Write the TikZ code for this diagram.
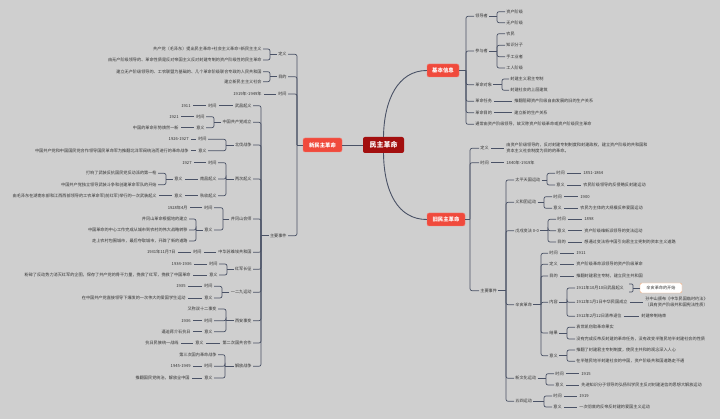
\documentclass[tikz,border=0pt]{standalone}
\usepackage{fontspec}
\setmainfont{Noto Sans CJK SC}
\definecolor{bgc}{HTML}{CFCFCF}
\definecolor{lnc}{HTML}{4A5266}
\definecolor{txc}{HTML}{333333}
\definecolor{redc}{HTML}{F04A3C}
\definecolor{dredc}{HTML}{A30F0F}
\definecolor{orgc}{HTML}{F0A878}
\begin{document}
\begin{tikzpicture}[x=1pt,y=-1pt,
  t/.style={font=\fontsize{4.15}{6}\selectfont, text=txc, inner sep=1.2pt},
  R/.style={t, anchor=west},
  L/.style={t, anchor=east},
  ln/.style={draw=lnc, line width=0.7pt},
  br/.style={ln, rounded corners=2pt},
  sc/.style={ln, shorten <=1pt, shorten >=1pt},
  topic/.style={fill=redc, draw=redc!70!white, line width=0.4pt, text=white, rounded corners=2pt, font=\fontsize{5.4}{6}\selectfont\bfseries, inner sep=0pt},
]
\fill[bgc] (0,0) rectangle (720,419);
\useasboundingbox (0,0) rectangle (720,419);

% main topics
\node[fill=dredc, text=white, font=\fontsize{7}{8}\selectfont\bfseries, minimum width=41pt, minimum height=16pt, rounded corners=2pt, inner sep=0pt] (root) at (383.5,145) {民主革命};
\node[topic, minimum width=32pt, minimum height=13pt] (jb) at (443,70.5) {基本信息};
\node[topic, minimum width=38pt, minimum height=13pt] (jiu) at (446,219.5) {旧民主革命};
\node[topic, minimum width=39pt, minimum height=14pt] (xin) at (322.5,145) {新民主革命};
\draw[ln, line width=0.9pt] (root.north) .. controls (384,100) and (398,70.5) .. (jb.west);
\draw[ln, line width=0.9pt] (root.south) .. controls (384,192) and (398,219.5) .. (jiu.west);
\draw[ln] (root.west) -- (xin.east);

% ===== 基本信息 =====
\node[R] (b1) at (474,16.3) {领导者};
\node[R] (b2) at (474,51) {参与者};
\node[R] (b3) at (474,84.7) {革命对象};
\node[R] (b4) at (474,101.3) {革命任务};
\node[R] (b5) at (474,112.7) {革命目的};
\node[R] (b6) at (474,124.3) {通常由资产阶级领导，故又称资产阶级革命或资产阶级民主革命};
\coordinate (kb) at (466,70.5);
\draw[ln] (jb.east) -- (kb);
\foreach \n in {b1,b2,b3,b4,b5,b6} \draw[br] (kb) |- (\n.west);

\node[R] (b1a) at (505,11.7) {资产阶级};
\node[R] (b1b) at (505,22.7) {无产阶级};
\coordinate (kb1) at (497,16.3);
\draw[ln] (b1.east) -- (kb1);
\foreach \n in {b1a,b1b} \draw[br] (kb1) |- (\n.west);

\node[R] (b2a) at (505,33.7) {农民};
\node[R] (b2b) at (505,45.3) {知识分子};
\node[R] (b2c) at (505,56.7) {手工业者};
\node[R] (b2d) at (505,68) {工人阶级};
\coordinate (kb2) at (497,51);
\draw[ln] (b2.east) -- (kb2);
\foreach \n in {b2a,b2b,b2c,b2d} \draw[br] (kb2) |- (\n.west);

\node[R] (b3a) at (509,79) {封建主义君主专制};
\node[R] (b3b) at (509,90.3) {封建社会的上层建筑};
\coordinate (kb3) at (502,84.7);
\draw[ln] (b3.east) -- (kb3);
\foreach \n in {b3a,b3b} \draw[br] (kb3) |- (\n.west);

\node[R] (b4a) at (513,101.3) {推翻阻碍资产阶级自由发展的旧的生产关系};
\draw[sc] (b4.east) -- (b4a.west);
\node[R] (b5a) at (513,112.7) {建立新的生产关系};
\draw[sc] (b5.east) -- (b5a.west);

% ===== 旧民主革命 =====
\coordinate (kj) at (470,219.5);
\draw[ln] (jiu.east) -- (kj);
\node[R] (j1) at (479,148.3) {定义};
\node[R] (j2) at (479,162.7) {时间};
\node[R] (j3) at (479,290.7) {主要事件};
\foreach \n in {j1,j2,j3} \draw[br] (kj) |- (\n.west);
\node[R, align=left] (j1a) at (505,148.3) {由资产阶级领导的，反对封建专制制度和封建政权，建立资产阶级的共和国和\\资本主义社会制度为目的的革命。};
\draw[sc] (j1.east) -- (j1a.west);
\node[R] (j2a) at (505,162.7) {1840年-1919年};
\draw[sc] (j2.east) -- (j2a.west);

\coordinate (kj3) at (506,290.7);
\draw[ln] (j3.east) -- (kj3);
\node[R] (e1) at (514,180) {太平天国运动};
\node[R] (e2) at (514,202.3) {义和团运动};
\node[R] (e3) at (514,230.7) {戊戌变法 0-0};
\node[R] (e4) at (514,304.7) {辛亥革命};
\node[R] (e5) at (514,378.3) {新文化运动};
\node[R] (e6) at (514,401.3) {五四运动};
\foreach \n in {e1,e2,e3,e4,e5,e6} \draw[br] (kj3) |- (\n.west);

% 太平天国运动
\coordinate (ke1) at (547,180);
\draw[ln] (e1.east) -- (ke1);
\node[R] (e1a) at (555,173.3) {时间};
\node[R] (e1b) at (555,185) {意义};
\foreach \n in {e1a,e1b} \draw[br] (ke1) |- (\n.west);
\node[R] (e1a1) at (582,173.3) {1851-1864};
\node[R] (e1b1) at (582,185) {农民阶级领导的反侵略反封建运动};
\draw[sc] (e1a.east) -- (e1a1.west);
\draw[sc] (e1b.east) -- (e1b1.west);

% 义和团运动
\coordinate (ke2) at (544,202.3);
\draw[ln] (e2.east) -- (ke2);
\node[R] (e2a) at (552,196.7) {时间};
\node[R] (e2b) at (552,208.3) {意义};
\foreach \n in {e2a,e2b} \draw[br] (ke2) |- (\n.west);
\node[R] (e2a1) at (579,196.7) {1900};
\node[R] (e2b1) at (579,208.3) {农民为主体的大规模反帝爱国运动};
\draw[sc] (e2a.east) -- (e2a1.west);
\draw[sc] (e2b.east) -- (e2b1.west);

% 戊戌变法
\coordinate (ke3) at (548,230.7);
\draw[ln] (e3.east) -- (ke3);
\node[R] (e3a) at (556,219.3) {时间};
\node[R] (e3b) at (556,230.7) {意义};
\node[R] (e3c) at (556,242) {目的};
\foreach \n in {e3a,e3b,e3c} \draw[br] (ke3) |- (\n.west);
\node[R] (e3a1) at (583,219.3) {1898};
\node[R] (e3b1) at (583,230.7) {资产阶级维新派领导的变法运动};
\node[R] (e3c1) at (583,242) {想通过变法将中国引向君主立宪制的资本主义道路};
\draw[sc] (e3a.east) -- (e3a1.west);
\draw[sc] (e3b.east) -- (e3b1.west);
\draw[sc] (e3c.east) -- (e3c1.west);

% 辛亥革命
\coordinate (ke4) at (541,304.7);
\draw[ln] (e4.east) -- (ke4);
\node[R] (f1) at (548,253.3) {时间};
\node[R] (f2) at (548,264.3) {定义};
\node[R] (f3) at (548,276) {目的};
\node[R] (f4) at (548,302.3) {内容};
\node[R] (f5) at (548,333) {结果};
\node[R] (f6) at (548,355.7) {意义};
\foreach \n in {f1,f2,f3,f4,f5,f6} \draw[br] (ke4) |- (\n.west);
\node[R] (f1a) at (575,253.3) {1911};
\node[R] (f2a) at (575,264.3) {资产阶级革命派领导的资产阶级革命};
\node[R] (f3a) at (575,276) {推翻封建君主专制，建立民主共和国};
\draw[sc] (f1.east) -- (f1a.west);
\draw[sc] (f2.east) -- (f2a.west);
\draw[sc] (f3.east) -- (f3a.west);

\coordinate (kf4) at (567,302.3);
\draw[ln] (f4.east) -- (kf4);
\node[R] (g1) at (575,288) {1911年10月10日武昌起义};
\node[R] (g2) at (575,302.3) {1912年1月1日中华民国成立};
\node[R] (g3) at (575,316.3) {1912年2月12日清帝退位};
\foreach \n in {g1,g2,g3} \draw[br] (kf4) |- (\n.west);
\node[t, draw=orgc, fill=white, rounded corners=2pt, minimum width=42pt, minimum height=10pt, inner sep=0pt] (kbox) at (661,288) {辛亥革命的开始};
\coordinate (sA) at (629,284);
\coordinate (sB) at (629,292);
\coordinate (sM) at (633,288);
\draw[br, rounded corners=1.2pt] (sA) -| (sM) |- (sB);
\draw[ln] (sM) -- (kbox.west);
\node[R, align=left] (g2a) at (644,302.3) {孙中山颁布《中华民国临时约法》\\（具有资产阶级共和国宪法性质）};
\draw[sc] (g2.east) -- (g2a.west);
\node[R] (g3a) at (640,316.3) {封建帝制结束};
\draw[sc] (g3.east) -- (g3a.west);

\coordinate (kf5) at (567,333);
\draw[ln] (f5.east) -- (kf5);
\node[R] (h1) at (575,327.3) {袁世凯窃取革命果实};
\node[R] (h2) at (575,339) {没有完成反帝反封建的革命任务，没有改变半殖民地半封建社会的性质};
\foreach \n in {h1,h2} \draw[br] (kf5) |- (\n.west);

\coordinate (kf6) at (567,355.7);
\draw[ln] (f6.east) -- (kf6);
\node[R] (i1) at (575,350) {推翻了封建君主专制制度，使民主共和的观念深入人心};
\node[R] (i2) at (575,361.3) {在半殖民地半封建社会的中国，资产阶级共和国道路走不通};
\foreach \n in {i1,i2} \draw[br] (kf6) |- (\n.west);

% 新文化运动
\coordinate (ke5) at (546,378.3);
\draw[ln] (e5.east) -- (ke5);
\node[R] (e5a) at (554,373.7) {时间};
\node[R] (e5b) at (554,385) {意义};
\foreach \n in {e5a,e5b} \draw[br] (ke5) |- (\n.west);
\node[R] (e5a1) at (580,373.7) {1915};
\node[R] (e5b1) at (580,385) {先进知识分子领导的弘扬科学民主反对封建迷信的思想大解放运动};
\draw[sc] (e5a.east) -- (e5a1.west);
\draw[sc] (e5b.east) -- (e5b1.west);

% 五四运动
\coordinate (ke6) at (544,401.3);
\draw[ln] (e6.east) -- (ke6);
\node[R] (e6a) at (552,396) {时间};
\node[R] (e6b) at (552,407) {意义};
\foreach \n in {e6a,e6b} \draw[br] (ke6) |- (\n.west);
\node[R] (e6a1) at (578,396) {1919};
\node[R] (e6b1) at (578,407) {一次彻底的反帝反封建的爱国主义运动};
\draw[sc] (e6a.east) -- (e6a1.west);
\draw[sc] (e6b.east) -- (e6b1.west);

% ===== 新民主革命 =====
\coordinate (kx) at (297,145);
\draw[ln] (xin.west) -- (kx);
\node[L] (n1) at (288,54.3) {定义};
\node[L] (n2) at (288,76.7) {目的};
\node[L] (n3) at (288,94) {时间};
\node[L] (n4) at (288,235.7) {主要事件};
\foreach \n in {n1,n2,n3,n4} \draw[br] (kx) |- (\n.east);

\coordinate (kn1) at (270,54.3);
\draw[ln] (n1.west) -- (kn1);
\node[L] (n1a) at (263,49) {共产党（毛泽东）提出民主革命+社会主义革命=新民主主义};
\node[L] (n1b) at (263,60) {由无产阶级领导的、革命性质是反对帝国主义反对封建专制的资产阶级性的民主革命};
\foreach \n in {n1a,n1b} \draw[br] (kn1) |- (\n.east);

\coordinate (kn2) at (270,76.7);
\draw[ln] (n2.west) -- (kn2);
\node[L] (n2a) at (263,71.7) {建立无产阶级领导的、工农联盟为基础的、几个革命阶级联合专政的人民共和国};
\node[L] (n2b) at (263,81.7) {建立新民主主义社会};
\foreach \n in {n2a,n2b} \draw[br] (kn2) |- (\n.east);

\node[L] (n3a) at (263,94) {1919年-1949年};
\draw[sc] (n3.west) -- (n3a.east);

\coordinate (kn4) at (261,235.7);
\draw[ln] (n4.west) -- (kn4);
\node[L] (m1) at (253,105.7) {武昌起义};
\node[L] (m2) at (253,122.3) {中国共产党成立};
\node[L] (m3) at (253,145) {北伐战争};
\node[L] (m4) at (253,179) {两次起义};
\node[L] (m5) at (253,219) {井冈山会师};
\node[L] (m6) at (253,252.3) {中华苏维埃共和国};
\node[L] (m7) at (253,269.3) {红军长征};
\node[L] (m8) at (253,292.3) {一二九运动};
\node[L] (m9) at (253,320.7) {西安事变};
\node[L] (m10) at (253,343) {第二次国共合作};
\node[L] (m11) at (253,366.3) {解放战争};
\foreach \n in {m1,m2,m3,m4,m5,m6,m7,m8,m9,m10,m11} \draw[br] (kn4) |- (\n.east);

% 武昌起义
\node[L] (m1a) at (218,105.7) {时间};
\node[L] (m1b) at (192,105.7) {1911};
\draw[sc] (m1.west) -- (m1a.east);
\draw[sc] (m1a.west) -- (m1b.east);

% 中国共产党成立
\coordinate (km2) at (214,122.3);
\draw[ln] (m2.west) -- (km2);
\node[L] (m2a) at (206,116.7) {时间};
\node[L] (m2b) at (206,127.7) {意义};
\foreach \n in {m2a,m2b} \draw[br] (km2) |- (\n.east);
\node[L] (m2a1) at (180,116.7) {1921};
\node[L] (m2b1) at (180,127.7) {中国的革命形势焕然一新};
\draw[sc] (m2a.west) -- (m2a1.east);
\draw[sc] (m2b.west) -- (m2b1.east);

% 北伐战争
\coordinate (km3) at (226,145);
\draw[ln] (m3.west) -- (km3);
\node[L] (m3a) at (208,139.3) {时间};
\node[L] (m3b) at (208,150.7) {意义};
\foreach \n in {m3a,m3b} \draw[br] (km3) |- (\n.east);
\node[L] (m3a1) at (190,139.3) {1926-1927};
\node[L] (m3b1) at (190,150.7) {中国共产党和中国国民党合作领导国民革命军为推翻北洋军阀统治而进行的革命战争};
\draw[sc] (m3a.west) -- (m3a1.east);
\draw[sc] (m3b.west) -- (m3b1.east);

% 两次起义
\coordinate (km4) at (226,179);
\draw[ln] (m4.west) -- (km4);
\node[L] (m4a) at (218,162.7) {时间};
\node[L] (m4b) at (218,179) {南昌起义};
\node[L] (m4c) at (218,195.7) {秋收起义};
\foreach \n in {m4a,m4b,m4c} \draw[br] (km4) |- (\n.east);
\node[L] (m4a1) at (193,162.7) {1927};
\draw[sc] (m4a.west) -- (m4a1.east);
\node[L] (m4b1) at (184,179) {意义};
\draw[sc] (m4b.west) -- (m4b1.east);
\coordinate (km4b) at (166,179);
\draw[ln] (m4b1.west) -- (km4b);
\node[L] (m4b2) at (158,173.3) {打响了武装反抗国民党反动派的第一枪};
\node[L] (m4b3) at (158,184.7) {中国共产党独立领导武装斗争和创建革命军队的开始};
\foreach \n in {m4b2,m4b3} \draw[br] (km4b) |- (\n.east);
\node[L] (m4c1) at (184,195.7) {意义};
\draw[sc] (m4c.west) -- (m4c1.east);
\node[L] (m4c2) at (158,195.7) {由毛泽东在湖南东部和江西西部领导的工农革命军(前红军)举行的一次武装起义};
\draw[sc] (m4c1.west) -- (m4c2.east);

% 井冈山会师
\coordinate (km5) at (223,219);
\draw[ln] (m5.west) -- (km5);
\node[L] (m5a) at (214,207.7) {时间};
\node[L] (m5b) at (214,230) {意义};
\foreach \n in {m5a,m5b} \draw[br] (km5) |- (\n.east);
\node[L] (m5a1) at (189,207.7) {1928年4月};
\draw[sc] (m5a.west) -- (m5a1.east);
\coordinate (km5b) at (196,230);
\draw[ln] (m5b.west) -- (km5b);
\node[L] (m5b1) at (189,219) {井冈山革命根据地的建立};
\node[L] (m5b2) at (189,230) {中国革命的中心工作完成从城市到农村的伟大战略转移};
\node[L] (m5b3) at (189,241) {走上农村包围城市，最后夺取城市，开辟了新的道路};
\foreach \n in {m5b1,m5b2,m5b3} \draw[br] (km5b) |- (\n.east);

% 中华苏维埃共和国
\node[L] (m6a) at (203,252.3) {时间};
\node[L] (m6a1) at (177,252.3) {1931年11月7日};
\draw[sc] (m6.west) -- (m6a.east);
\draw[sc] (m6a.west) -- (m6a1.east);

% 红军长征
\coordinate (km7) at (227,269.3);
\draw[ln] (m7.west) -- (km7);
\node[L] (m7a) at (219,264) {时间};
\node[L] (m7b) at (219,275) {意义};
\foreach \n in {m7a,m7b} \draw[br] (km7) |- (\n.east);
\node[L] (m7a1) at (193,264) {1934-1936};
\node[L] (m7b1) at (192,275) {粉碎了反动势力消灭红军的企图，保存了共产党的骨干力量，挽救了红军，挽救了中国革命};
\draw[sc] (m7a.west) -- (m7a1.east);
\draw[sc] (m7b.west) -- (m7b1.east);

% 一二九运动
\coordinate (km8) at (222,292.3);
\draw[ln] (m8.west) -- (km8);
\node[L] (m8a) at (214,286.3) {时间};
\node[L] (m8b) at (214,298) {意义};
\foreach \n in {m8a,m8b} \draw[br] (km8) |- (\n.east);
\node[L] (m8a1) at (187,286.3) {1935};
\node[L] (m8b1) at (187,298) {在中国共产党直接领导下爆发的一次伟大的爱国学生运动};
\draw[sc] (m8a.west) -- (m8a1.east);
\draw[sc] (m8b.west) -- (m8b1.east);

% 西安事变
\coordinate (km9) at (226,320.7);
\draw[ln] (m9.west) -- (km9);
\node[L] (m9a) at (218,309) {又称双十二事变};
\node[L] (m9b) at (214,320.7) {时间};
\node[L] (m9c) at (214,331.7) {意义};
\foreach \n in {m9a,m9b,m9c} \draw[br] (km9) |- (\n.east);
\node[L] (m9b1) at (192,320.7) {1936};
\node[L] (m9c1) at (192,331.7) {逼迫蒋介石抗日};
\draw[sc] (m9b.west) -- (m9b1.east);
\draw[sc] (m9c.west) -- (m9c1.east);

% 第二次国共合作
\node[L] (m10a) at (205,343) {意义};
\node[L] (m10a1) at (180,343) {抗日民族统一战线};
\draw[sc] (m10.west) -- (m10a.east);
\draw[sc] (m10a.west) -- (m10a1.east);

% 解放战争
\coordinate (km11) at (225,366.3);
\draw[ln] (m11.west) -- (km11);
\node[L] (m11a) at (218,354.7) {第三次国内革命战争};
\node[L] (m11b) at (214,366.3) {时间};
\node[L] (m11c) at (214,378) {意义};
\foreach \n in {m11a,m11b,m11c} \draw[br] (km11) |- (\n.east);
\node[L] (m11b1) at (192,366.3) {1945-1949};
\node[L] (m11c1) at (191,378) {推翻国民党统治，解放全中国};
\draw[sc] (m11b.west) -- (m11b1.east);
\draw[sc] (m11c.west) -- (m11c1.east);
\end{tikzpicture}
\end{document}
